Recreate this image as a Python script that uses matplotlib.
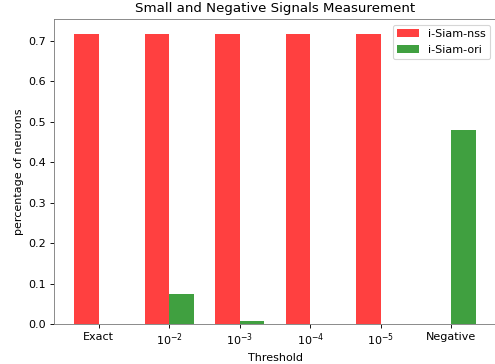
import matplotlib
matplotlib.use("Agg")
import matplotlib.pyplot as plt
import numpy as np

labels = ["Exact", "$10^{-2}$", "$10^{-3}$", "$10^{-4}$", "$10^{-5}$", "Negative"]
nss = [0.716, 0.718, 0.716, 0.716, 0.716, 0.0]
ori = [0.0, 0.074, 0.008, 0.0, 0.0, 0.48]

plt.rcParams['font.size'] = 10
fig = plt.figure(figsize=(495 / 80, 364 / 80), dpi=80)
ax = fig.add_axes([54 / 495, 40 / 364, 442 / 495, 305 / 364])

idx = np.arange(len(labels))
w = 0.35
ax.bar(idx - w / 2, nss, w, color='red', alpha=0.75, label='i-Siam-nss')
ax.bar(idx + w / 2, ori, w, color='green', alpha=0.75, label='i-Siam-ori')

ax.set_xticks(idx)
ax.set_xticklabels(labels)
ax.set_xlabel("Threshold")
ax.set_ylabel("percentage of neurons")
ax.set_title("Small and Negative Signals Measurement", fontsize=12)
for s in ax.spines.values():
    s.set_color('#808080')
# the right edge of the axes falls just outside the figure
ax.spines['right'].set_visible(False)
ax.legend(loc='upper right')

fig.savefig("out.png", dpi=80)
